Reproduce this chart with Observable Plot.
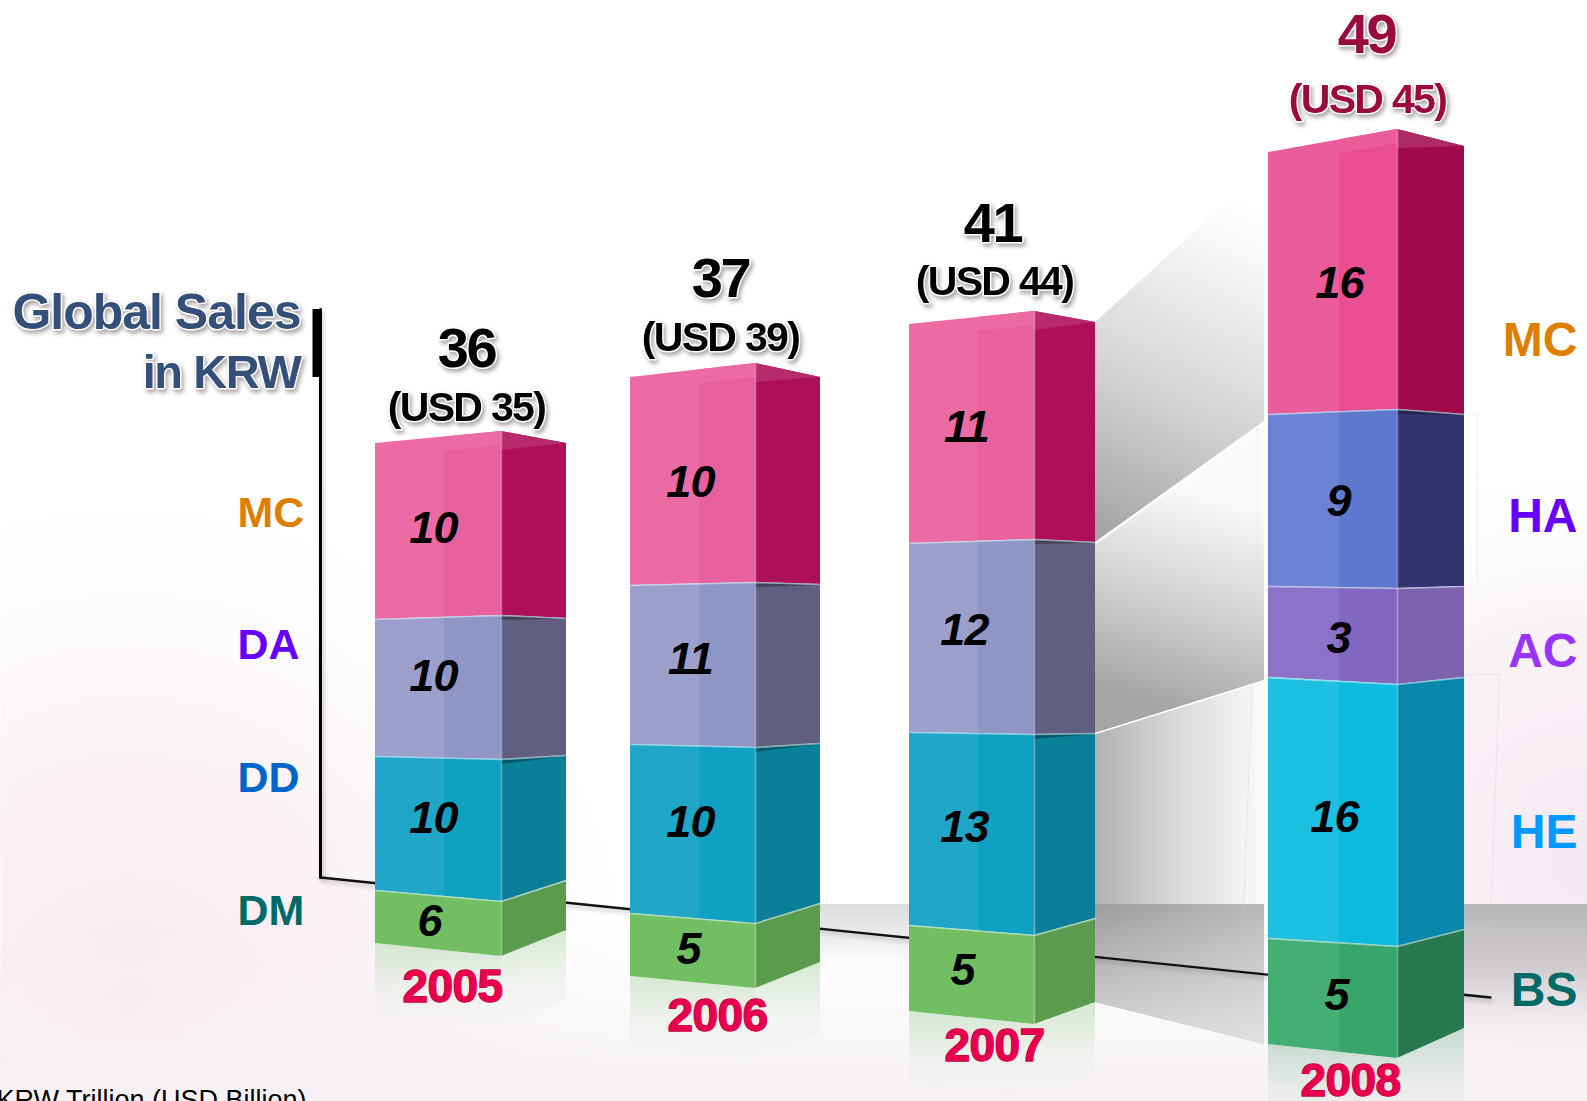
<!DOCTYPE html>
<html><head><meta charset="utf-8">
<script src="https://cdn.jsdelivr.net/npm/d3@7"></script>
<script src="https://cdn.jsdelivr.net/npm/@observablehq/plot@0.6"></script>
<style>
html,body{margin:0;padding:0;background:#fff;overflow:hidden}
.thin{filter:drop-shadow(2px 3px 2px rgba(0,0,0,.22))}
.total{filter:drop-shadow(2px 3px 2px rgba(40,20,30,.38));letter-spacing:-2.5px}
.usd{filter:drop-shadow(2px 3px 2px rgba(40,20,30,.38));letter-spacing:-1.7px}
.head1{filter:drop-shadow(2px 3px 2px rgba(40,20,30,.38));letter-spacing:-1px}
.head2{filter:drop-shadow(2px 3px 2px rgba(40,20,30,.38));letter-spacing:-1.4px}
.value{letter-spacing:-.8px}
.yr{letter-spacing:-.6px}
</style></head><body><div id="chart"></div>
<script>
// ---- chart values ----
const years = ["2005","2006","2007","2008"];
const totalsKRW = [36,37,41,49];
const totalsUSD = [35,39,44,45];
const segments2005 = ["MC","DA","DD","DM"];
const segments2006 = ["MC","DA","DD","DM"];
const segments2007 = ["MC","DA","DD","DM"];
const segments2008 = ["MC","HA","AC","HE","BS"];
const values2005 = [10,10,10,6];
const values2006 = [10,11,10,5];
const values2007 = [11,12,13,5];
const values2008 = [16,9,3,16,5];

// the drawing is a hand-laid perspective picture, not proportional: readings in picture units
const corners2005 = [375,501,566];
const corners2006 = [630,755,820];
const corners2007 = [909,1034,1095];
const corners2008 = [1268,1397,1464];
const levels2005 = [[443,431,443],[619,615,618],[756,759,755],[890,901,880],[943,956,930]];
const levels2006 = [[377,363,377],[585,582,584],[744,747,743],[913,923,903],[976,988,962]];
const levels2007 = [[324,311,322],[543,539,542],[732,734,733],[925,935,918],[1011,1024,1002]];
const levels2008 = [[152,129,146],[414,409,414],[586,588,586],[677,684,677],[938,946,929],[1044,1058,1028]];
const valueLabelAt2005 = [[433,528],[433,676],[433,818],[429,921]];
const valueLabelAt2006 = [[690,482],[690,659],[690,822],[688,949]];
const valueLabelAt2007 = [[966,427],[964,630],[964,827],[962,970]];
const valueLabelAt2008 = [[1339,283],[1338,501],[1338,638],[1334,817],[1336,995]];
const totalAt = [[466,349],[720,279],[992,224],[1366,35]];
const usdAt = [[466,407],[720,337],[994,281],[1367,99]];
const yearAt = [[452,987],[717,1016],[994,1046],[1350,1081]];
const leftLabels = ["MC","DA","DD","DM"];
const leftLabelY = [513,645,778,911];
const rightLabels = ["MC","HA","AC","HE","BS"];
const rightLabelY = [340,516,651,832,990];
const baselineX = [320,1490];
const baselineY = [877,997];
const axisX = [320,320];
const axisY = [309,877];

// ---- styling ----
const faces = {
  MC:["#EC6BA4","#E8609D","#AD0F59","#B72A6C"], DA:["#9C9FCB","#9096C4","#615F80","#615F80"],
  DD:["#20A7C7","#0FA0C2","#0A7F98","#0A7F98"], DM:["#72BE62","#72BE62","#5A9B4E","#5A9B4E"]
};
const faces2008 = {
  MC:["#EA5D9A","#E84E91","#A00A4B","#AE2A66"], HA:["#6C83D3","#5E78CE","#33336F","#33336F"],
  AC:["#8C72C8","#8266C0","#7C62AC","#7C62AC"], HE:["#1EC0E2","#0DBBDE","#0A88AC","#0A88AC"],
  BS:["#44AE75","#38A66C","#27774F","#27774F"]
};
const leftColors = ["#DF7F00","#6600FF","#0066CC","#006B66"];
const rightColors = ["#DF7F00","#6600FF","#9933FF","#0099FF","#006B66"];
const SANS = "'Liberation Sans',Arial,sans-serif";

function defs(){
  const d = d3.create("svg:defs");
  const grad = (id, attrs, stops, tag="linearGradient") => {
    const g = d.append("svg:"+tag).attr("id",id);
    Object.entries(attrs).forEach(([k,v])=>g.attr(k,v));
    stops.forEach(([o,c,a=1])=>g.append("svg:stop").attr("offset",o).attr("stop-color",c).attr("stop-opacity",a));
  };
  const H={x1:0,x2:1,y1:0,y2:0}, V={x1:0,x2:0,y1:0,y2:1};
  const U="userSpaceOnUse";
  grad("bgPinkL",{gradientUnits:U,cx:130,cy:1010,r:560},[[0,"#F6E9F0"],[.55,"#FBF5F8"],[1,"#FFFFFF",0]],"radialGradient");
  grad("bgPinkR",{gradientUnits:U,cx:1587,cy:860,r:420},[[0,"#F5E9F1"],[.6,"#F9F4F8"],[1,"#FFFFFF",0]],"radialGradient");
  grad("bgPinkB",{...V},[[0,"#F7F3F6",0],[1,"#F6F1F4",1]]);
  grad("floorL",{...V},[[0,"#DCDCDC"],[.6,"#F2F2F2"],[1,"#FFFFFF",0]]);
  grad("floorR",{...V},[[0,"#B9B6B9"],[.5,"#D3CFD3"],[1,"#F5EFF3",.2]]);
  grad("conn1",{gradientUnits:U,x1:1105,y1:535,x2:1262,y2:205},[[0,"#A4A4A4"],[.4,"#D2D2D2"],[.8,"#F4F4F4"],[1,"#FFFFFF",.7]]);
  grad("conn2",{gradientUnits:U,x1:1165,y1:705,x2:1228,y2:500},[[0,"#A6A6A6"],[.45,"#CFCFCF"],[1,"#FAFAFA"]]);
  grad("conn3",{...H},[[0,"#B2B2B2"],[.5,"#DADADA"],[1,"#FAFAFA"]]);
  grad("conn3b",{...H},[[0,"#9C9C9C"],[1,"#B9B9B9"]]);
  grad("connFade",{...V},[[0,"#FFFFFF",0],[1,"#F4F0F3",.7]]);
  years.forEach(y=>["F","S"].forEach(s=>{
    const c = y==="2008" ? "#B7D3C4" : "#C9E2C6";
    grad(`refl${y}${s}`,{...V},[[0,c,.75],[.55,c,.2],[1,c,0]]);
  }));
  for (const [pre,tbl] of [["a",faces],["b",faces2008]])
    for (const [k,v] of Object.entries(tbl))
      grad(`front-${pre}-${k}`,{...H},[[0,v[0]],[.55,v[0]],[.55,v[1]],[1,v[1]]]);
  return d.node();
}

const quad = (x1,x2,lo1,hi1,lo2,hi2)=>[{x:x1,lo:lo1,hi:hi1},{x:x2,lo:lo2,hi:hi2}];
const poly = (rows,opts)=>Plot.area(rows,{x1:"x",y1:"lo",y2:"hi",...opts});

function barMarks(year,c,lv,names,tbl,pre){
  const m=[]; const [L,E,R]=c; const n=names.length;
  const bot=lv[n];
  const reflH = 72;
  m.push(poly(quad(L,E,bot[0]+reflH,bot[0],bot[1]+reflH,bot[1]),{fill:`url(#refl${year}F)`}));
  m.push(poly(quad(E,R,bot[1]+reflH,bot[1],bot[2]+reflH,bot[2]),{fill:`url(#refl${year}S)`}));
  names.forEach((k,i)=>{
    const t=lv[i], b=lv[i+1], col=tbl[k];
    m.push(poly(quad(L,E,b[0],t[0],b[1],t[1]),{fill:`url(#front-${pre}-${k})`}));
    m.push(poly(quad(E,R,b[1],t[1],b[2],t[2]),{fill:col[2]}));
    if(i===0){
      const mid=L+(E-L)*.55, tm=t[0]+(t[1]-t[0])*.55;
      m.push(poly(quad(mid,E,tm+14,tm,t[1]+14,t[1]),{fill:col[0]}));
      m.push(poly([{x:E,lo:t[1]+19,hi:t[1]},{x:R,lo:t[2],hi:t[2]}],{fill:col[3]}));
    }
    if(i>0 && i<3 && !(year==="2008"&&i===2))
      m.push(poly(quad(E,R,t[1]+5,t[1],t[2]+1,t[2]),{fill:"#000",fillOpacity:.3}));
  });
  m.push(Plot.line([{x:E,y:lv[0][1]},{x:E,y:bot[1]}],{x:"x",y:"y",stroke:"#fff",strokeOpacity:.38,strokeWidth:1.5}));
  for(let i=1;i<n;i++){
    m.push(Plot.line([{x:L,y:lv[i][0]},{x:E,y:lv[i][1]},{x:R,y:lv[i][2]}],{x:"x",y:"y",stroke:"#DFF3FA",strokeOpacity:.55,strokeWidth:1.6}));
  }
  return m;
}

const labelMarks=(vals,at)=>Plot.text(vals.map((v,i)=>({v,x:at[i][0],y:at[i][1]})),{
  x:"x",y:"y",text:"v",fontFamily:SANS,fontWeight:"bold",fontStyle:"italic",fontSize:45,fill:"#000",className:"value"});

const corners=[corners2005,corners2006,corners2007,corners2008];
const levels=[levels2005,levels2006,levels2007,levels2008];
const segs=[segments2005,segments2006,segments2007,segments2008];
const vals=[values2005,values2006,values2007,values2008];
const at=[valueLabelAt2005,valueLabelAt2006,valueLabelAt2007,valueLabelAt2008];
const [c07,c08]=[corners2007,corners2008];
const [l07,l08]=[levels2007,levels2008];

const marks=[
  defs,
  Plot.frame({fill:"#FFFFFF",stroke:null}),
  Plot.frame({fill:"url(#bgPinkL)"}),
  Plot.frame({fill:"url(#bgPinkR)"}),
  poly(quad(0,1587,1101,930,1101,930),{fill:"url(#bgPinkB)"}),
  // floor horizon
  poly(quad(corners2006[1],c07[0],975,904,975,904),{fill:"url(#floorL)"}),
  poly(quad(c08[2]-5,1587,1045,904,1045,904),{fill:"url(#floorR)"}),
  // connectors from 2007 to 2008
  poly(quad(c07[2],c08[0]-4,l07[1][2],l07[0][2],421,168),{fill:"url(#conn1)"}),
  poly(quad(c07[2],c08[0]-4,l07[2][2],l07[1][2]+3,680,424),{fill:"url(#conn2)"}),
  poly(quad(c07[2],c08[0]-4,l07[4][2],l07[2][2]+1,l08[5][0],682),{fill:"url(#conn3)"}),
  poly(quad(c07[2],c08[0]-4,l07[4][2],904,l08[5][0],904),{fill:"url(#conn3b)"}),
  poly(quad(c07[2],c08[0]-4,l07[4][2],904,l08[5][0],904),{fill:"url(#connFade)"}),
  Plot.line([{x:c07[2],y:l07[2][2]},{x:c08[0]-4,y:680}],{x:"x",y:"y",stroke:"#fff",strokeOpacity:.8,strokeWidth:1.5,strokeDasharray:"5 2"}),
  // faint outlines around the new 2008 segments
  Plot.line([{x:1252,y:675},{x:1499,y:674},{x:1490,y:925},{x:1242,y:936},{x:1252,y:675}],{x:"x",y:"y",stroke:"#C8C8D8",strokeOpacity:.35,strokeWidth:1}),
  Plot.line([{x:1257,y:586},{x:1257,y:418},{x:1477,y:414},{x:1477,y:586}],{x:"x",y:"y",stroke:"#E8E0C8",strokeOpacity:.45,strokeWidth:1}),
  // axes
  Plot.line(baselineX.map((x,i)=>({x,y:baselineY[i]})),{x:"x",y:"y",stroke:"#111",strokeWidth:2.4,className:"thin"}),
  Plot.line(axisX.map((x,i)=>({x,y:axisY[i]})),{x:"x",y:"y",stroke:"#000",strokeWidth:3,className:"thin"}),
  Plot.ruleX([316],{y1:309,y2:377,stroke:"#000",strokeWidth:8}),
  // bars
  ...years.flatMap((y,i)=>barMarks(y,corners[i],levels[i],segs[i],i===3?faces2008:faces,i===3?"b":"a")),
  ...at.map((a,i)=>labelMarks(vals[i],a)),
  // totals
  Plot.text(totalsKRW.map((v,i)=>({v,x:totalAt[i][0],y:totalAt[i][1],c:i===3?"#9A0A3C":"#000"})),{
    x:"x",y:"y",text:"v",fill:"c",fontFamily:SANS,fontWeight:"bold",fontSize:56,stroke:"#fff",strokeWidth:3,paintOrder:"stroke",className:"total"}),
  Plot.text(totalsUSD.map((v,i)=>({v:`(USD ${v})`,x:usdAt[i][0],y:usdAt[i][1],c:i===3?"#9A0A3C":"#000"})),{
    x:"x",y:"y",text:"v",fill:"c",fontFamily:SANS,fontWeight:"bold",fontSize:41,stroke:"#fff",strokeWidth:3,paintOrder:"stroke",className:"usd"}),
  // years
  Plot.text(years.map((v,i)=>({v,x:yearAt[i][0],y:yearAt[i][1]})),{
    x:"x",y:"y",text:"v",fill:"#E8004F",fontFamily:SANS,fontWeight:"bold",fontSize:46,stroke:"#C4003F",strokeWidth:1.4,className:"yr"}),
  // heading
  Plot.text(["Global Sales"],{x:[300],y:[312],textAnchor:"end",fill:"#34507A",fontFamily:SANS,fontWeight:"bold",fontSize:50,stroke:"#fff",strokeWidth:3,paintOrder:"stroke",className:"head1"}),
  Plot.text(["in KRW"],{x:[300],y:[372],textAnchor:"end",fill:"#34507A",fontFamily:SANS,fontWeight:"bold",fontSize:47,stroke:"#fff",strokeWidth:3,paintOrder:"stroke",className:"head2"}),
  // division labels
  Plot.text(leftLabels,{x:leftLabels.map(()=>237),y:leftLabelY,textAnchor:"start",fill:leftColors,fontFamily:SANS,fontWeight:"bold",fontSize:43}),
  Plot.text(rightLabels,{x:rightLabels.map(()=>1577),y:rightLabelY,textAnchor:"end",fill:rightColors,fontFamily:SANS,fontWeight:"bold",fontSize:48}),
  Plot.text(["KRW Trillion (USD Billion)"],{x:[-4],y:[1100],textAnchor:"start",fill:"#000",fontFamily:SANS,fontSize:27})
];

const chart=Plot.plot({
  width:1587,height:1101,margin:0,
  x:{domain:[0,1587],range:[0,1587],axis:null},
  y:{domain:[0,1101],range:[0,1101],axis:null},
  color:{type:"identity"},
  style:{background:"#fff",display:"block"},
  marks
});
document.getElementById("chart").append(chart);
</script></body></html>
